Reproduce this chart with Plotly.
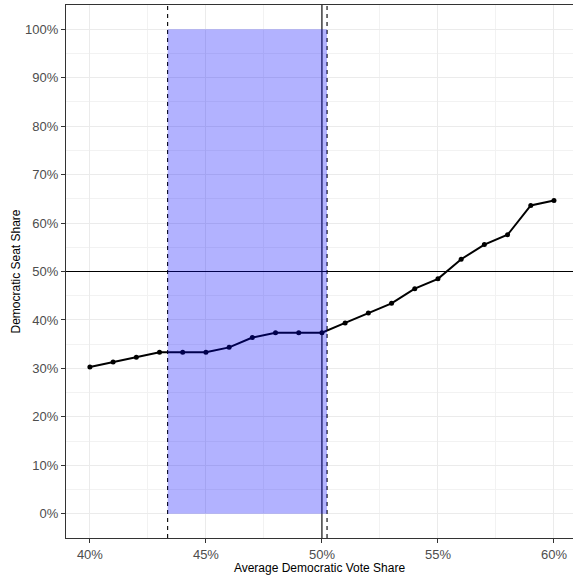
import plotly.graph_objects as go

vote_share = [40, 41, 42, 43, 44, 45, 46, 47, 48, 49, 50,
              51, 52, 53, 54, 55, 56, 57, 58, 59, 60]
seats_won = [30, 31, 32, 33, 33, 33, 34, 36, 37, 37, 37,
             39, 41, 43, 46, 48, 52, 55, 57, 63, 64]
total_seats = 99
seat_share = [100 * s / total_seats for s in seats_won]

interval_low = 43.35
interval_high = 50.22
threshold = 50

x_ticks = [40, 45, 50, 55, 60]
x_labels = ["40%", "45%", "50%", "55%", "60%"]
y_ticks = [0, 10, 20, 30, 40, 50, 60, 70, 80, 90, 100]
y_labels = [f"{v}%" for v in y_ticks]

fig = go.Figure()
fig.add_trace(go.Scatter(
    x=vote_share, y=seat_share, mode="lines+markers",
    line=dict(color="black", width=2),
    marker=dict(color="black", size=5),
    showlegend=False, hoverinfo="skip"))

shapes = [
    dict(type="line", xref="paper", x0=0, x1=1, yref="y", y0=threshold, y1=threshold,
         line=dict(color="black", width=1.1), layer="above"),
    dict(type="line", xref="x", x0=threshold, x1=threshold, yref="paper", y0=0, y1=1,
         line=dict(color="black", width=1.1), layer="above"),
    dict(type="line", xref="x", x0=interval_low, x1=interval_low, yref="paper", y0=0, y1=1,
         line=dict(color="black", width=1.1, dash="4px,4px"), layer="above"),
    dict(type="line", xref="x", x0=interval_high, x1=interval_high, yref="paper", y0=0, y1=1,
         line=dict(color="black", width=1.1, dash="4px,4px"), layer="above"),
    dict(type="rect", xref="x", x0=interval_low, x1=interval_high, yref="y", y0=0, y1=100,
         fillcolor="rgba(0,0,255,0.3)", line=dict(width=0), layer="above"),
]

fig.update_layout(
    width=573, height=575,
    margin=dict(l=66, r=0, t=5, b=37),
    paper_bgcolor="white", plot_bgcolor="white",
    font=dict(family="Liberation Sans, Arial, sans-serif", color="black"),
    shapes=shapes,
    xaxis=dict(
        range=[38.97, 60.82], tickvals=x_ticks, ticktext=x_labels,
        tickfont=dict(size=13, color="#4D4D4D"),
        showgrid=True, gridcolor="#EBEBEB", gridwidth=1.1,
        minor=dict(tickvals=[42.5, 47.5, 52.5, 57.5], showgrid=True,
                   gridcolor="#F2F2F2", gridwidth=0.6),
        ticks="outside", ticklen=4, tickcolor="#333333", tickwidth=1,
        showline=True, linecolor="#333333", linewidth=1.1, mirror=True,
        zeroline=False,
        title=dict(text="Average Democratic Vote Share", font=dict(size=12), standoff=1),
    ),
    yaxis=dict(
        range=[-5, 105], tickvals=y_ticks, ticktext=y_labels,
        tickfont=dict(size=13, color="#4D4D4D"),
        showgrid=True, gridcolor="#EBEBEB", gridwidth=1.1,
        minor=dict(tickvals=[5, 15, 25, 35, 45, 55, 65, 75, 85, 95], showgrid=True,
                   gridcolor="#F2F2F2", gridwidth=0.6),
        ticks="outside", ticklen=4, tickcolor="#333333", tickwidth=1,
        showline=True, linecolor="#333333", linewidth=1.1, mirror=False,
        zeroline=False,
        title=dict(text="Democratic Seat Share", font=dict(size=12), standoff=1),
    ),
)

fig.write_html("out.html", config={"displayModeBar": False},
               post_script="document.body.style.margin='0';document.body.style.overflow='hidden';")
